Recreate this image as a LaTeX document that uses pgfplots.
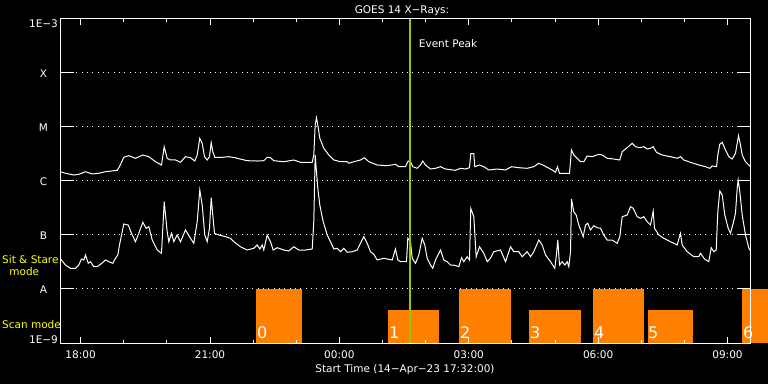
\documentclass[border=0pt]{standalone}
\usepackage{fontspec}
\setmainfont{DejaVu Sans}
\usepackage{pgfplots}
\pgfplotsset{compat=1.18}
\definecolor{goesgreen}{RGB}{150,200,0}
\definecolor{goesorange}{RGB}{255,128,0}
\definecolor{goesyellow}{RGB}{255,255,0}
\newcommand{\tf}{\fontsize{10.5bp}{12bp}\selectfont}
\begin{document}
\begin{tikzpicture}[font=\tf]
\useasboundingbox (-60.5bp,-41bp) rectangle (707.5bp,343bp);
\fill[black] (-60.5bp,-41bp) rectangle (707.5bp,343bp);
\begin{axis}[
  at={(0,0)}, anchor=south west,
  scale only axis, width=690bp, height=324bp,
  xmin=17.5333, xmax=33.5333, ymin=-9, ymax=-3,
  axis on top, clip=false,
  axis line style={white, line width=1bp},
  xtick={18,21,24,27,30,33},
  xticklabels={18:00,21:00,00:00,03:00,06:00,09:00},
  minor xtick={19,20,22,23,25,26,28,29,31,32},
  ytick={-9,-8,-7,-6,-5,-4,-3},
  yticklabels={\raisebox{4.1bp}{1E−9},A,B,C,M,X,\raisebox{-3.5bp}{1E−3}},
  tick style={white, line width=1bp},
  tick align=inside,
  major tick length=6bp, minor tick length=3bp,
  ytick style={/pgfplots/major tick length=13bp},
  ymajorgrids,
  major grid style={white, line width=1bp, dash pattern=on 1bp off 4.33bp},
  tick label style={font=\tf, text=white},
  xticklabel style={anchor=base, yshift=-15.7bp},
  yticklabel style={anchor=base, xshift=-17bp, yshift=-4.8bp},
]
% scan-mode bars
\addplot[fill=goesorange, draw=none] coordinates {(22.078,-9) (22.078,-8) (23.122,-8) (23.122,-9)} -- cycle;
\addplot[fill=goesorange, draw=none] coordinates {(25.139,-9) (25.139,-8.389) (26.321,-8.389) (26.321,-9)} -- cycle;
\addplot[fill=goesorange, draw=none] coordinates {(26.785,-9) (26.785,-8) (27.968,-8) (27.968,-9)} -- cycle;
\addplot[fill=goesorange, draw=none] coordinates {(28.408,-9) (28.408,-8.389) (29.614,-8.389) (29.614,-9)} -- cycle;
\addplot[fill=goesorange, draw=none] coordinates {(29.892,-9) (29.892,-8) (31.068,-8) (31.068,-9)} -- cycle;
\addplot[fill=goesorange, draw=none] coordinates {(31.145,-9) (31.145,-8.389) (32.211,-8.389) (32.211,-9)} -- cycle;
\addplot[fill=goesorange, draw=none] coordinates {(33.347,-9) (33.347,-8) (33.95,-8) (33.95,-9)} -- cycle;
% long channel
\addplot[white, line width=1bp, mark=none] coordinates {
(17.533,-5.828) (17.649,-5.857) (17.842,-5.889) (17.958,-5.876) (18.113,-5.828) (18.268,-5.870) (18.421,-5.857) (18.577,-5.828) (18.848,-5.802) (18.901,-5.735) (19.001,-5.561) (19.117,-5.531) (19.272,-5.580) (19.442,-5.519) (19.581,-5.550) (19.736,-5.643) (19.875,-5.704) (19.938,-5.365) (20.007,-5.580) (20.084,-5.611) (20.200,-5.611) (20.316,-5.654) (20.432,-5.550) (20.548,-5.569) (20.647,-5.630) (20.703,-5.519) (20.763,-5.209) (20.819,-5.302) (20.872,-5.550) (20.935,-5.611) (20.988,-5.550) (21.028,-5.291) (21.065,-5.457) (21.111,-5.561) (21.283,-5.561) (21.436,-5.550) (21.591,-5.569) (21.631,-5.580) (21.862,-5.624) (22.094,-5.630) (22.247,-5.624) (22.326,-5.561) (22.403,-5.569) (22.479,-5.624) (22.711,-5.643) (22.943,-5.611) (23.098,-5.654) (23.370,-5.654) (23.407,-5.519) (23.439,-4.963) (23.469,-4.828) (23.500,-4.963) (23.546,-5.209) (23.639,-5.394) (23.755,-5.519) (23.871,-5.611) (24.026,-5.643) (24.181,-5.643) (24.218,-5.672) (24.334,-5.643) (24.490,-5.611) (24.582,-5.569) (24.682,-5.643) (24.877,-5.704) (25.109,-5.717) (25.301,-5.691) (25.378,-5.735) (25.533,-5.735) (25.596,-5.630) (25.649,-5.643) (25.702,-5.735) (25.804,-5.765) (25.881,-5.704) (25.934,-5.630) (25.997,-5.704) (26.113,-5.778) (26.229,-5.765) (26.345,-5.735) (26.461,-5.778) (26.693,-5.802) (26.809,-5.765) (26.924,-5.778) (27.017,-5.754) (27.047,-5.494) (27.117,-5.494) (27.140,-5.735) (27.249,-5.704) (27.349,-5.735) (27.465,-5.796) (27.659,-5.778) (27.852,-5.796) (27.991,-5.735) (28.160,-5.754) (28.355,-5.765) (28.508,-5.735) (28.624,-5.672) (28.717,-5.704) (28.935,-5.796) (29.011,-5.839) (29.058,-5.735) (29.104,-5.857) (29.204,-5.857) (29.336,-5.857) (29.382,-5.426) (29.436,-5.519) (29.515,-5.580) (29.591,-5.643) (29.668,-5.643) (29.746,-5.537) (29.862,-5.550) (30.015,-5.506) (30.094,-5.519) (30.210,-5.580) (30.363,-5.593) (30.502,-5.611) (30.558,-5.457) (30.674,-5.383) (30.790,-5.302) (30.866,-5.365) (30.966,-5.383) (31.059,-5.365) (31.138,-5.407) (31.214,-5.394) (31.277,-5.365) (31.353,-5.469) (31.486,-5.519) (31.678,-5.550) (31.833,-5.580) (31.910,-5.550) (31.986,-5.611) (32.142,-5.654) (32.334,-5.704) (32.490,-5.735) (32.589,-5.765) (32.645,-5.722) (32.745,-5.735) (32.775,-5.519) (32.821,-5.320) (32.877,-5.283) (32.953,-5.426) (33.030,-5.550) (33.109,-5.593) (33.185,-5.487) (33.225,-5.302) (33.255,-5.161) (33.301,-5.333) (33.341,-5.519) (33.417,-5.643) (33.533,-5.735)
};
% short channel
\addplot[white, line width=1bp, mark=none] coordinates {
(17.533,-7.444) (17.649,-7.556) (17.765,-7.617) (17.881,-7.617) (17.958,-7.556) (18.020,-7.444) (18.074,-7.463) (18.113,-7.370) (18.176,-7.524) (18.229,-7.494) (18.305,-7.587) (18.384,-7.587) (18.461,-7.543) (18.577,-7.463) (18.653,-7.494) (18.746,-7.524) (18.809,-7.431) (18.862,-7.370) (18.901,-7.185) (19.001,-6.796) (19.103,-6.815) (19.180,-6.969) (19.272,-7.124) (19.349,-6.969) (19.442,-6.765) (19.521,-6.876) (19.581,-6.846) (19.660,-7.093) (19.776,-7.278) (19.875,-7.339) (19.938,-6.383) (20.007,-6.939) (20.045,-7.124) (20.107,-6.969) (20.161,-7.124) (20.239,-7.000) (20.316,-7.124) (20.432,-6.907) (20.548,-7.061) (20.624,-7.154) (20.703,-6.754) (20.763,-6.167) (20.819,-6.444) (20.879,-7.000) (20.935,-7.124) (20.988,-6.876) (21.028,-6.309) (21.065,-6.630) (21.104,-6.969) (21.204,-7.000) (21.359,-7.031) (21.475,-7.061) (21.552,-7.124) (21.707,-7.217) (21.862,-7.278) (22.016,-7.246) (22.094,-7.185) (22.155,-7.259) (22.210,-7.185) (22.247,-7.278) (22.326,-7.000) (22.403,-7.124) (22.465,-7.278) (22.558,-7.235) (22.711,-7.278) (22.827,-7.296) (22.943,-7.217) (23.059,-7.278) (23.214,-7.278) (23.370,-7.259) (23.407,-6.754) (23.439,-5.519) (23.469,-5.828) (23.500,-6.135) (23.546,-6.444) (23.625,-6.754) (23.718,-7.000) (23.794,-7.124) (23.871,-7.259) (23.949,-7.246) (24.026,-7.309) (24.103,-7.246) (24.181,-7.320) (24.297,-7.309) (24.413,-7.278) (24.490,-7.154) (24.566,-7.031) (24.645,-7.154) (24.722,-7.309) (24.798,-7.357) (24.877,-7.463) (25.030,-7.431) (25.225,-7.463) (25.301,-7.259) (25.355,-7.463) (25.417,-7.494) (25.556,-7.494) (25.587,-7.061) (25.649,-7.124) (25.689,-7.431) (25.765,-7.524) (25.842,-7.370) (25.920,-7.061) (25.981,-7.185) (26.036,-7.431) (26.113,-7.556) (26.166,-7.617) (26.229,-7.463) (26.306,-7.339) (26.345,-7.278) (26.421,-7.463) (26.500,-7.494) (26.577,-7.556) (26.653,-7.556) (26.769,-7.587) (26.832,-7.420) (26.885,-7.494) (26.964,-7.402) (27.017,-7.463) (27.047,-6.506) (27.117,-6.661) (27.172,-7.402) (27.249,-7.217) (27.349,-7.339) (27.428,-7.494) (27.504,-7.431) (27.581,-7.309) (27.736,-7.278) (27.852,-7.494) (27.968,-7.217) (28.044,-7.309) (28.160,-7.309) (28.239,-7.402) (28.355,-7.309) (28.432,-7.402) (28.508,-7.309) (28.624,-7.093) (28.703,-7.185) (28.780,-7.370) (28.895,-7.494) (28.995,-7.617) (29.028,-7.402) (29.065,-7.093) (29.104,-7.556) (29.167,-7.494) (29.227,-7.556) (29.283,-7.494) (29.320,-7.587) (29.360,-7.309) (29.382,-6.333) (29.436,-6.569) (29.491,-6.630) (29.552,-6.815) (29.654,-7.031) (29.707,-6.815) (29.760,-6.783) (29.823,-6.907) (29.899,-6.828) (29.978,-6.865) (30.055,-6.876) (30.131,-7.000) (30.210,-7.093) (30.326,-7.093) (30.442,-7.154) (30.502,-7.031) (30.558,-6.661) (30.674,-6.630) (30.750,-6.476) (30.813,-6.506) (30.906,-6.661) (30.982,-6.691) (31.059,-6.661) (31.138,-6.754) (31.214,-6.815) (31.277,-6.556) (31.307,-6.876) (31.407,-7.000) (31.523,-7.061) (31.678,-7.124) (31.833,-7.185) (31.910,-6.969) (31.949,-7.185) (32.065,-7.309) (32.218,-7.402) (32.334,-7.402) (32.374,-7.339) (32.466,-7.444) (32.566,-7.494) (32.622,-7.235) (32.682,-7.309) (32.738,-7.278) (32.775,-6.569) (32.821,-6.185) (32.877,-6.259) (32.937,-6.630) (33.016,-6.876) (33.069,-6.969) (33.132,-6.783) (33.185,-6.598) (33.225,-6.135) (33.248,-5.981) (33.285,-6.198) (33.341,-6.630) (33.417,-7.000) (33.496,-7.246) (33.533,-7.296)
};
% event peak
\addplot[goesgreen, line width=2bp, mark=none] coordinates {(25.626,-9) (25.626,-3)};
% bar numbers
\foreach \xx/\lab in {22.078/0,25.139/1,26.785/2,28.408/3,29.892/4,31.145/5,33.347/6}{
  \edef\temp{\noexpand\node[anchor=base west, inner sep=0pt, text=white, font=\noexpand\fontsize{16bp}{18bp}\noexpand\selectfont, xshift=0.5bp, yshift=4.3bp] at (axis cs:\xx,-9) {\lab};}
  \temp
}
\end{axis}
\node[anchor=base, text=white, inner sep=0pt] at (341.5bp,329.7bp) {GOES 14 X−Rays:};
\node[anchor=base west, text=white, inner sep=0pt] at (358.2bp,295.7bp) {Event Peak};
\node[anchor=base, text=white, inner sep=0pt] at (344.5bp,-29bp) {Start Time (14−Apr−23 17:32:00)};
\node[anchor=base west, text=goesyellow, inner sep=0pt] at (-58.5bp,79.3bp) {Sit \& Stare};
\node[anchor=base, text=goesyellow, inner sep=0pt] at (-36.2bp,67.7bp) {mode};
\node[anchor=base west, text=goesyellow, inner sep=0pt] at (-58.5bp,14.3bp) {Scan mode};
\end{tikzpicture}
\end{document}
